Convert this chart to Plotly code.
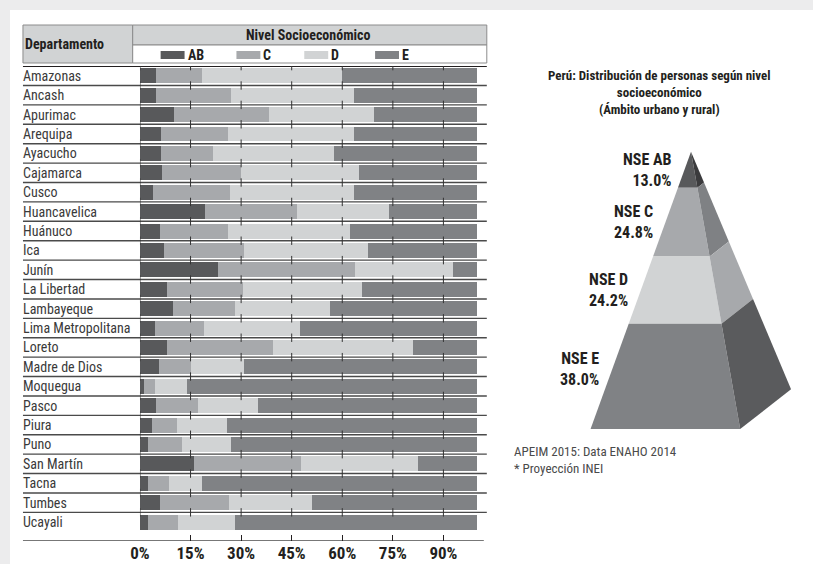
import plotly.graph_objects as go

# ---------------- data ----------------
departments = ["Amazonas", "Ancash", "Apurimac", "Arequipa", "Ayacucho", "Cajamarca", "Cusco",
               "Huancavelica", "Huánuco", "Ica", "Junín", "La Libertad", "Lambayeque",
               "Lima Metropolitana", "Loreto", "Madre de Dios", "Moquegua", "Pasco", "Piura",
               "Puno", "San Martín", "Tacna", "Tumbes", "Ucayali"]
series_names = ["AB", "C", "D", "E"]
ab = [4.9, 4.9, 10.0, 6.1, 6.1, 6.4, 3.8, 19.2, 5.8, 7.0, 23.0, 7.9, 9.7, 4.6, 7.9, 5.5, 1.1, 4.9, 3.5, 2.3, 15.9, 2.3, 5.8, 2.3]
c_vals = [13.4, 22.0, 28.4, 19.9, 15.7, 23.7, 22.8, 27.5, 20.2, 24.0, 40.9, 22.8, 18.6, 14.3, 31.7, 9.5, 3.5, 12.2, 7.4, 10.3, 32.0, 6.2, 20.5, 8.9]
d_vals = [41.7, 36.7, 31.1, 37.6, 35.6, 35.0, 37.0, 27.2, 36.4, 36.7, 29.0, 35.2, 28.2, 28.7, 41.4, 16.0, 9.2, 18.0, 14.8, 14.5, 34.6, 9.8, 24.8, 17.1]
e_vals = [40.0, 36.4, 30.5, 36.4, 42.6, 34.9, 36.4, 26.1, 37.6, 32.3, 7.1, 34.1, 43.5, 52.4, 19.0, 69.0, 86.2, 64.9, 74.3, 72.9, 17.5, 81.7, 48.9, 71.7]
tick_vals = [0, 15, 30, 45, 60, 75, 90]
tick_text = ["0%", "15%", "30%", "45%", "60%", "75%", "90%"]
pyr_labels = ["NSE AB", "NSE C", "NSE D", "NSE E"]
pyr_vals = [13.0, 24.8, 24.2, 38.0]

# ---------------- style ----------------
W, H = 813, 564
X0 = 8.0            # horizontal offset observed in the rendered page
XW = W - X0
FONT = "Roboto Condensed, Roboto, sans-serif"
colors = ["#58595b", "#a7a9ac", "#d1d3d4", "#808285"]
side_colors = ["#3b3b3d", "#7f8184", "#a7a9ac", "#5a5b5d"]
DARK = "#231f20"


def px(x):
    return min(1.0, max(0.0, (x - X0) / XW))


def py(y):
    return 1 - y / H


series = [ab, c_vals, d_vals, e_vals]
ypos = list(range(len(departments)))

fig = go.Figure()

# separator tick crosses
sep_y = [k - 0.5 for k in range(len(departments))]
cx, cy = [], []
for yy in sep_y:
    for t in tick_vals:
        cx.append(t)
        cy.append(yy)
fig.add_trace(go.Scatter(x=cx, y=cy, mode="markers", hoverinfo="skip", showlegend=False,
                         marker=dict(symbol="line-ns", size=6, line=dict(width=1, color="#333333"))))

for name, vals, col in zip(series_names, series, colors):
    fig.add_trace(go.Bar(x=vals, y=ypos, orientation="h", name=name, width=0.77,
                         marker=dict(color=col, line=dict(width=0)), showlegend=False))

# pyramid
apex = (690.7, 151.7)
base_l = (590.0, 429.0)
base_f = (740.0, 429.0)
base_b = (791.0, 389.3)


def pt(p, t):
    return (apex[0] + t * (p[0] - apex[0]), apex[1] + t * (p[1] - apex[1]))


total = sum(pyr_vals)
cum = [0.0]
for v in pyr_vals:
    cum.append(cum[-1] + v / total)

annotations = []
for i in range(len(pyr_vals)):
    t0, t1 = cum[i], cum[i + 1]
    L0, L1 = pt(base_l, t0), pt(base_l, t1)
    F0, F1 = pt(base_f, t0), pt(base_f, t1)
    B0, B1 = pt(base_b, t0), pt(base_b, t1)
    fig.add_trace(go.Scatter(x=[L0[0], F0[0], F1[0], L1[0], L0[0]], y=[L0[1], F0[1], F1[1], L1[1], L0[1]],
                             fill="toself", fillcolor=colors[i], mode="lines", line=dict(width=0, color=colors[i]),
                             xaxis="x2", yaxis="y2", hoverinfo="skip", showlegend=False))
    fig.add_trace(go.Scatter(x=[F0[0], B0[0], B1[0], F1[0], F0[0]], y=[F0[1], B0[1], B1[1], F1[1], F0[1]],
                             fill="toself", fillcolor=side_colors[i], mode="lines", line=dict(width=0, color=side_colors[i]),
                             xaxis="x2", yaxis="y2", hoverinfo="skip", showlegend=False))
    tm = (t0 + t1) / 2 if i < len(pyr_vals) - 1 else t0 + 0.43 * (t1 - t0)
    Lm = pt(base_l, tm)
    annotations.append(dict(x=Lm[0] - 11, y=Lm[1], xref="x2", yref="y2", xanchor="right", yanchor="middle",
                            align="right", showarrow=False,
                            text=f"<b>{pyr_labels[i]}<br>{pyr_vals[i]:.1f}%</b>",
                            font=dict(family=FONT, size=16, color=DARK)))

# department labels
for i, name in enumerate(departments):
    annotations.append(dict(x=px(19), y=i, xref="paper", yref="y", xanchor="left", yanchor="middle",
                            showarrow=False, text=name, font=dict(family=FONT, size=14, color="#3a3a3a")))

# header texts
annotations.append(dict(x=px(21), y=py(44), xref="paper", yref="paper", xanchor="left", yanchor="middle",
                        showarrow=False, text="<b>Departamento</b>", font=dict(family=FONT, size=14, color=DARK)))
annotations.append(dict(x=px(307), y=py(35), xref="paper", yref="paper", xanchor="center", yanchor="middle",
                        showarrow=False, text="<b>Nivel Socioeconómico</b>", font=dict(family=FONT, size=14, color=DARK)))

# legend
leg_shapes = []
leg_x = [159, 235, 303, 374]
for name, col, lx in zip(series_names, colors, leg_x):
    leg_shapes.append(dict(type="rect", xref="paper", yref="paper", x0=px(lx), x1=px(lx + 24),
                           y0=py(59), y1=py(51), fillcolor=col, line=dict(width=0)))
    annotations.append(dict(x=px(lx + 25), y=py(55), xref="paper", yref="paper", xanchor="left", yanchor="middle",
                            showarrow=False, text=f"<b>{name}</b>", font=dict(family=FONT, size=14, color=DARK)))

# title and source
annotations.append(dict(x=659, y=92, xref="x2", yref="y2", xanchor="center", yanchor="middle", showarrow=False,
                        text="<b>Perú: Distribución de personas según nivel<br>socioeconómico<br>(Ámbito urbano y rural)</b>",
                        font=dict(family=FONT, size=13, color=DARK)))
annotations.append(dict(x=511, y=460, xref="x2", yref="y2", xanchor="left", yanchor="middle", align="left",
                        showarrow=False, text="APEIM 2015: Data ENAHO 2014<br>* Proyección INEI",
                        font=dict(family=FONT, size=13, color="#4a4a4a")))

# background panel and header boxes
shapes = [
    dict(type="rect", xref="paper", yref="paper", x0=0, x1=1, y0=0, y1=py(10),
         fillcolor="white", line=dict(width=0), layer="below"),
    dict(type="rect", xref="paper", yref="paper", x0=px(21), x1=px(131), y0=py(63), y1=py(25),
         fillcolor="#d1d3d4", line=dict(width=1, color="#8c8c8c"), layer="below"),
    dict(type="rect", xref="paper", yref="paper", x0=px(131), x1=px(486), y0=py(45), y1=py(25),
         fillcolor="#d1d3d4", line=dict(width=1, color="#8c8c8c"), layer="below"),
    dict(type="rect", xref="paper", yref="paper", x0=px(131), x1=px(486), y0=py(63), y1=py(45),
         fillcolor="white", line=dict(width=1, color="#8c8c8c"), layer="below"),
] + leg_shapes

for yy in sep_y[1:]:
    shapes.append(dict(type="line", xref="paper", yref="y", x0=px(21), x1=px(486), y0=yy, y1=yy,
                       line=dict(width=1.4, color="#4a4a4a"), layer="below"))
shapes.append(dict(type="line", xref="paper", yref="y", x0=px(21), x1=px(486), y0=-0.5, y1=-0.5,
                   line=dict(width=1.8, color=DARK), layer="below"))
shapes.append(dict(type="line", xref="paper", yref="y", x0=px(21), x1=px(483), y0=23.96, y1=23.96,
                   line=dict(width=1.3, color="#4a4a4a"), layer="below"))

fig.update_layout(
    width=W, height=H, margin=dict(l=0, r=0, t=0, b=0),
    paper_bgcolor="#ececed", plot_bgcolor="rgba(0,0,0,0)",
    barmode="stack", bargap=0.23, showlegend=False,
    font=dict(family=FONT),
    xaxis=dict(range=[0, 100], domain=[px(138.3), px(476.3)], anchor="y",
               tickvals=tick_vals, ticktext=[f"<b>{t}</b>" for t in tick_text],
               ticks="inside", ticklen=6, tickwidth=1, tickcolor=DARK,
               tickfont=dict(family=FONT, size=17, color=DARK),
               showgrid=False, zeroline=False, showline=False, fixedrange=True),
    yaxis=dict(range=[23.96, -0.5], domain=[py(540.7), py(66.1)], anchor="x",
               showticklabels=False, showgrid=False, zeroline=False, ticks="", fixedrange=True),
    xaxis2=dict(range=[X0, W], domain=[0, 1], anchor="y2", visible=False, fixedrange=True),
    yaxis2=dict(range=[564, 0], domain=[0, 1], anchor="x2", visible=False, fixedrange=True),
    shapes=shapes, annotations=annotations,
)

fig.write_html("out.html")
